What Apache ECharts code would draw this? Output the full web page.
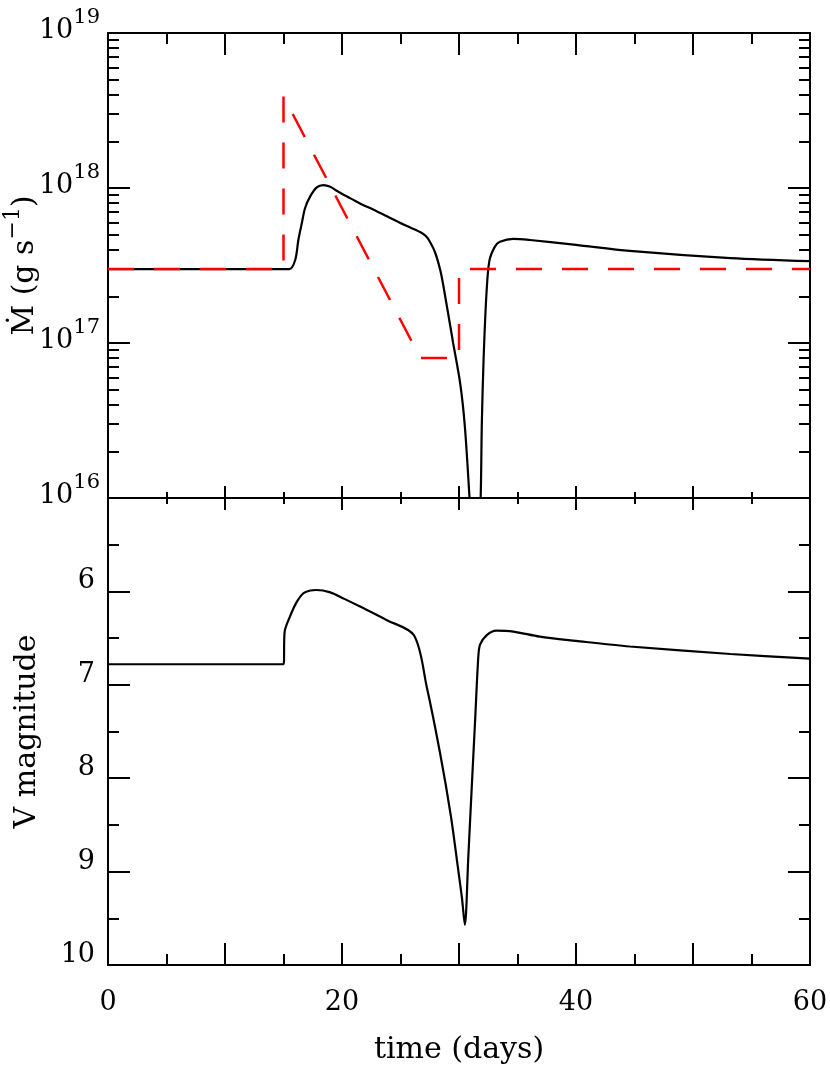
<!DOCTYPE html>
<html>
<head>
<meta charset="utf-8">
<script src="https://cdn.jsdelivr.net/npm/echarts@6/dist/echarts.min.js"></script>
<style>
  html, body { margin: 0; padding: 0; background: #fff; }
  #chart { width: 830px; height: 1068px; }
</style>
</head>
<body>
<div id="chart"></div>
<script>
// accretion rate model (black) in g/s
var tDot = [0, 15.5, 16.0, 16.27, 16.56, 16.84, 17.27, 17.84, 18.41, 19.0, 19.54, 20.5, 21.54, 22.7, 23.8, 25.5, 26.67, 27.1, 27.4, 27.95, 28.4, 28.66, 29.5, 30.1, 30.5, 30.9, 31.2, 31.6, 31.85, 31.95, 32.1, 32.35, 32.6, 33.08, 33.5, 34.65, 36.07, 40, 44.6, 53.2, 60];
var mDot = [3e17, 3e17, 3.43e17, 4.62e17, 5.9e17, 7.4e17, 8.8e17, 1.01e18, 1.045e18, 1.02e18, 9.6e17, 8.75e17, 7.95e17, 7.25e17, 6.6e17, 5.7e17, 5.2e17, 4.95e17, 4.65e17, 3.85e17, 2.95e17, 2.35e17, 1.0e17, 5.5e16, 2.9e16, 1.0e16, 4e15, 4e15, 1e16, 3e16, 7.8e16, 2.1e17, 3.4e17, 4.2e17, 4.5e17, 4.7e17, 4.62e17, 4.3e17, 3.93e17, 3.53e17, 3.37e17];

// input mass transfer (red dashed)
var tIn = [0, 15, 15, 26.7, 30, 30, 60];
var mIn = [3e17, 3e17, 3.9e18, 8e16, 8e16, 3e17, 3e17];

// V magnitude
var tV = [0, 15.0, 15.1, 15.55, 16.1, 16.7, 17.3, 17.8, 19.0, 20.2, 21.5, 23.8, 26.15, 27.24, 28.38, 29.3, 29.9, 30.25, 30.5, 30.8, 31.08, 31.37, 31.65, 31.8, 32.35, 33.2, 34.65, 36.9, 40, 44.6, 53.2, 60];
var vMag = [6.78, 6.78, 6.43, 6.27, 6.12, 6.02, 5.99, 5.985, 6.01, 6.08, 6.16, 6.306, 6.47, 7.02, 7.73, 8.4, 8.95, 9.28, 9.57, 8.83, 8.12, 7.4, 6.7, 6.57, 6.47, 6.42, 6.43, 6.485, 6.53, 6.59, 6.67, 6.72];

var logMajor = [1e16, 1e17, 1e18, 1e19];
var logMinor = [];
[16, 17, 18].forEach(function (e) {
  for (var k = 2; k <= 9; k++) logMinor.push(k * Math.pow(10, e));
});

function pairs(xs, ys) {
  return xs.map(function (x, i) { return [x, ys[i]]; });
}

var FONT = 'DejaVu Serif';
var LINE = { show: true, onZero: false, lineStyle: { color: '#000', width: 2 } };
var NOLINE = { show: false, onZero: false };
var TICKSTYLE = { color: '#000', width: 2 };

function xAx(grid, pos, len, extra) {
  var a = {
    type: 'value', gridIndex: grid, position: pos, min: 0, max: 60, interval: 10,
    axisLine: LINE,
    axisTick: { inside: true, length: len, lineStyle: TICKSTYLE },
    minorTick: { show: true, splitNumber: 2, length: len / 2, lineStyle: TICKSTYLE },
    splitLine: { show: false },
    axisLabel: { show: false }
  };
  return Object.assign(a, extra || {});
}

function logAx(pos, ticks, len, extra) {
  var a = {
    type: 'log', logBase: 10, gridIndex: 0, position: pos, offset: 0, min: 1e16, max: 1e19,
    axisLine: LINE,
    axisTick: { inside: true, length: len, customValues: ticks, lineStyle: TICKSTYLE },
    splitLine: { show: false },
    axisLabel: { show: false }
  };
  return Object.assign(a, extra || {});
}

function magAx(pos, extra) {
  var a = {
    type: 'value', gridIndex: 1, position: pos, offset: 0, min: 5, max: 10, interval: 1, inverse: true,
    axisLine: LINE,
    axisTick: { inside: true, length: 22, lineStyle: TICKSTYLE },
    minorTick: { show: true, splitNumber: 2, length: 11, lineStyle: TICKSTYLE },
    splitLine: { show: false },
    axisLabel: { show: false }
  };
  return Object.assign(a, extra || {});
}

var option = {
  animation: false,
  backgroundColor: '#fff',
  textStyle: { fontFamily: FONT },
  grid: [
    { left: 108, top: 33, width: 702, height: 465, containLabel: false, outerBoundsMode: 'none' },
    { left: 108, top: 498, width: 702, height: 467, containLabel: false, outerBoundsMode: 'none' }
  ],
  xAxis: [
    xAx(0, 'bottom', 12),
    xAx(0, 'top', 22),
    xAx(1, 'top', 12),
    xAx(1, 'bottom', 22, {
      axisLabel: {
        show: true, margin: 24, color: '#000', fontFamily: FONT, fontSize: 27,
        formatter: function (v) { return v % 20 === 0 ? String(v) : ''; }
      },
      name: 'time (days)', nameLocation: 'middle', nameGap: 70, nameMoveOverlap: false,
      nameTextStyle: { color: '#000', fontFamily: FONT, fontSize: 30 }
    })
  ],
  yAxis: [
    logAx('left', logMajor, 22, {
      axisLabel: {
        show: true, customValues: logMajor, margin: 8, verticalAlign: 'bottom', color: '#000',
        formatter: function (v) {
          return '{b|10}{s|' + Math.round(Math.log10(v)) + '}';
        },
        rich: {
          b: { fontFamily: FONT, fontSize: 27, color: '#000', lineHeight: 10, padding: [13, 0, 8, 0] },
          s: { fontFamily: FONT, fontSize: 21, color: '#000', lineHeight: 10, padding: [0, 0, 21, 0] }
        }
      },
      name: '{n|Ṁ (g s}{s|−1}{n|)}', nameLocation: 'middle', nameGap: 83, nameRotate: 90,
      nameMoveOverlap: false,
      nameTextStyle: {
        rich: {
          n: { fontFamily: FONT, fontSize: 30, color: '#000', lineHeight: 12, padding: [12, 0, 0, 0] },
          s: { fontFamily: FONT, fontSize: 22, color: '#000', lineHeight: 12, padding: [0, 0, 12, 0] }
        }
      }
    }),
    logAx('right', logMajor, 22),
    logAx('left', logMinor, 11, { axisLine: NOLINE }),
    logAx('right', logMinor, 11, { axisLine: NOLINE }),
    magAx('left', {
      axisLabel: {
        show: true, margin: 13, verticalAlign: 'bottom', lineHeight: 20, color: '#000', fontFamily: FONT, fontSize: 27,
        formatter: function (v) { return v === 5 ? '' : String(v); }
      },
      name: 'V magnitude', nameLocation: 'middle', nameGap: 66, nameRotate: 90,
      nameMoveOverlap: false,
      nameTextStyle: { color: '#000', fontFamily: FONT, fontSize: 30 }
    }),
    magAx('right')
  ],
  series: [
    {
      type: 'line', xAxisIndex: 0, yAxisIndex: 0, data: pairs(tDot, mDot),
      showSymbol: false, smooth: 0.3, clip: true,
      lineStyle: { color: '#000', width: 2.2 }
    },
    {
      type: 'line', xAxisIndex: 0, yAxisIndex: 0, data: pairs(tIn, mIn),
      showSymbol: false, clip: true,
      lineStyle: { color: '#ff0000', width: 2.5, type: [26, 20] }
    },
    {
      type: 'line', xAxisIndex: 3, yAxisIndex: 4, data: pairs(tV, vMag),
      showSymbol: false, smooth: 0.3, clip: true,
      lineStyle: { color: '#000', width: 2.2 }
    }
  ]
};

var chart = echarts.init(document.getElementById('chart'), null, { renderer: 'canvas' });
chart.setOption(option);
</script>
</body>
</html>
